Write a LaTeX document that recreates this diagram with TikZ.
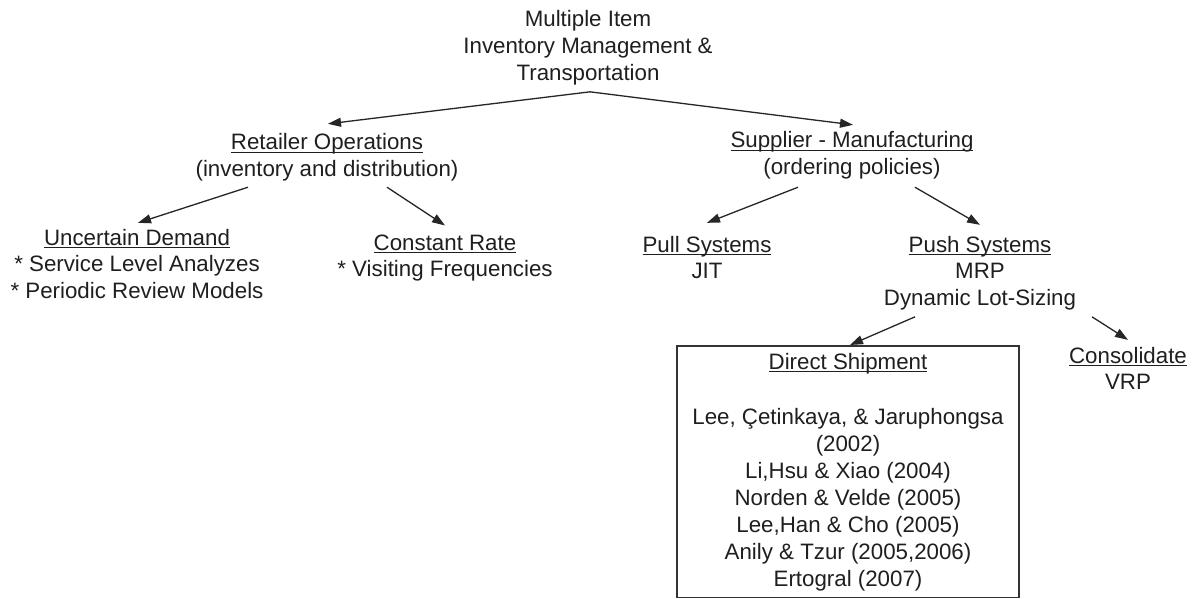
\documentclass[tikz,border=0pt]{standalone}
\usepackage{fontspec}
\setmainfont{Liberation Sans}
\usetikzlibrary{arrows.meta,calc}
\newbox\myulbox
\newcommand{\ulx}[1]{\setbox\myulbox\hbox{#1}\rlap{\rule[-3.2pt]{\wd\myulbox}{1.3pt}}\box\myulbox}
\begin{document}
\begin{tikzpicture}[x=1pt,y=-1pt,
  txt/.style={font=\fontsize{22.3pt}{26.6pt}\selectfont, align=center, inner sep=0pt, outer sep=0pt, anchor=base, text=black!88},
  arr/.style={-{Triangle[length=13pt,width=9pt]}, line width=1.3pt, draw=black!85},
  boxed/.style={draw=black!80, line width=1.8pt, inner sep=0pt, outer sep=0pt, anchor=north west}
]
\useasboundingbox (0,0) rectangle (1197,599);
\fill[white] (0,0) rectangle (1197,599);
% base anchor = baseline of the last line
\node[txt] (root) at (588,80.2) {Multiple Item\\Inventory Management \&\\Transportation};
\node[txt] (ret) at (327,176.6) {\ulx{Retailer Operations}\\(inventory and distribution)};
\node[txt] (sup) at (852,174.6) {\ulx{Supplier - Manufacturing}\\(ordering policies)};
\node[txt] (unc) at (137,298.2) {\ulx{Uncertain Demand}\\* Service Level Analyzes\\* Periodic Review Models};
\node[txt] (con) at (445,276.6) {\ulx{Constant Rate}\\* Visiting Frequencies};
\node[txt] (pull) at (707,278.6) {\ulx{Pull Systems}\\JIT};
\node[txt] (push) at (980,305.2) {\ulx{Push Systems}\\MRP\\Dynamic Lot-Sizing};
\node[txt] (cons) at (1128,389.6) {\ulx{Consolidate}\\VRP};
\node[boxed, minimum width=342pt, minimum height=251.5pt] (ds) at (677,346) {};
\node[txt, font=\fontsize{22.3pt}{27pt}\selectfont] (dst) at (848,586) {\ulx{Direct Shipment}\\[28pt]Lee, \c{C}etinkaya, \& Jaruphongsa\\(2002)\\Li,Hsu \& Xiao (2004)\\Norden \& Velde (2005)\\Lee,Han \& Cho (2005)\\Anily \& Tzur (2005,2006)\\Ertogral (2007)};
\draw[arr] ([shift={(2,7)}]root.south) -- ([shift={(1,-10)}]ret.north);
\draw[arr] ([shift={(2,7)}]root.south) -- ([shift={(1,-7)}]sup.north);
\draw[arr] ([shift={(-79,6)}]ret.south) -- ([shift={(1,-6)}]unc.north);
\draw[arr] ([shift={(60,6)}]ret.south) -- ([shift={(0,-9)}]con.north);
\draw[arr] ([shift={(-54,8)}]sup.south) -- ([shift={(0,-13)}]pull.north);
\draw[arr] ([shift={(63,8)}]sup.south) -- ([shift={(0,-11)}]push.north);
\draw[arr] ([shift={(-65,7)}]push.south) -- ([shift={(2,-1)}]ds.north);
\draw[arr] ([shift={(112,7)}]push.south) -- ([shift={(0,-7)}]cons.north);
\end{tikzpicture}
\end{document}
